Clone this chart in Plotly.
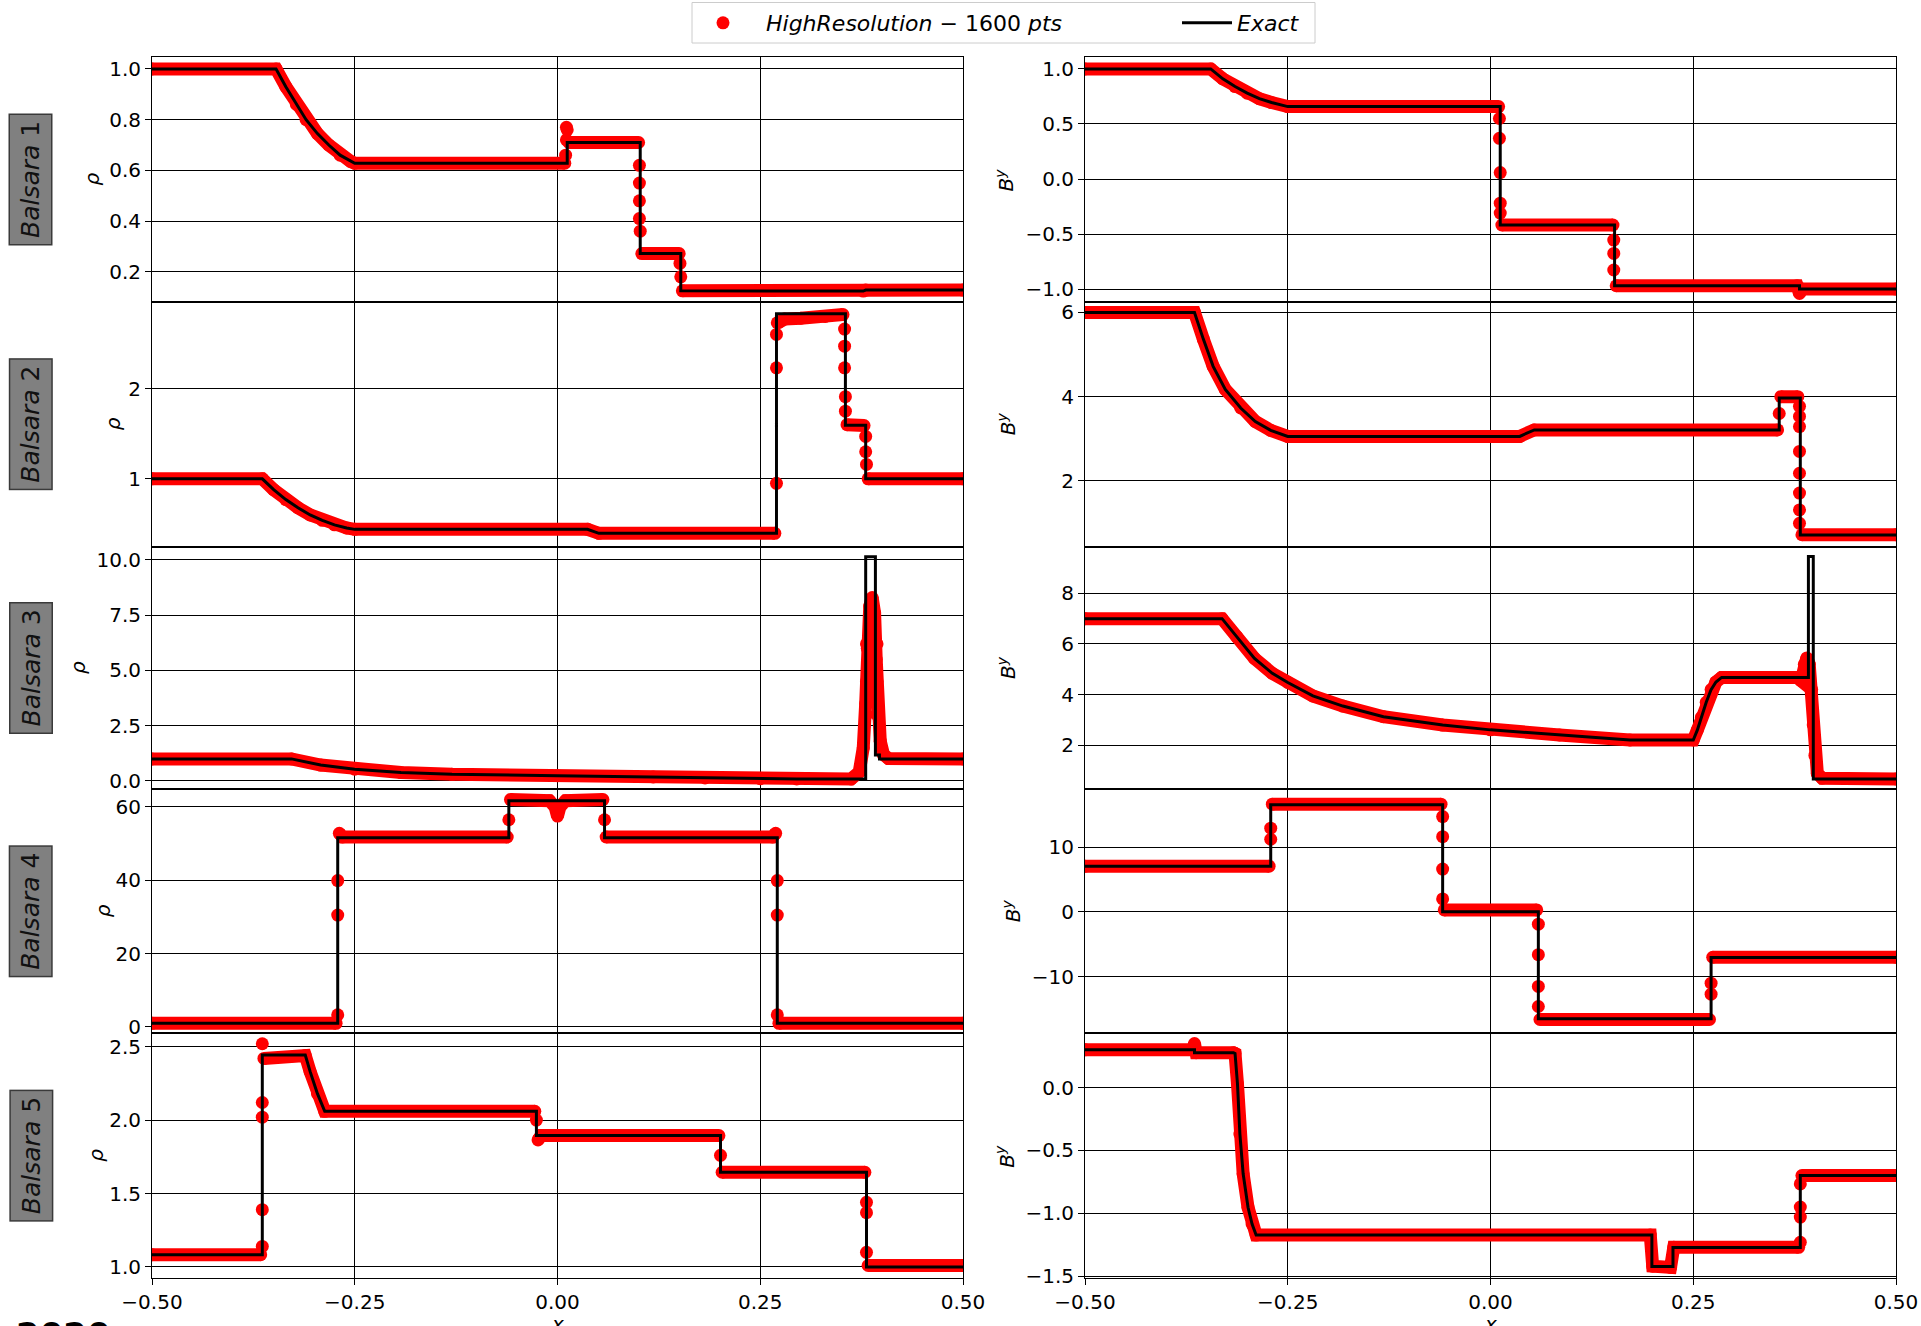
import plotly.graph_objects as go

# ---------------- tick labels ----------------
X_TICKS = [-0.5, -0.25, 0.0, 0.25, 0.5]
X_TICK_TEXT = ["\u22120.50", "\u22120.25", "0.00", "0.25", "0.50"]

ROW_NAMES = ["1", "2", "3", "4", "5"]

L1_tickvals = [0.2, 0.4, 0.6, 0.8, 1.0]
L1_ticktext = ["0.2", "0.4", "0.6", "0.8", "1.0"]
R1_tickvals = [-1.0, -0.5, 0.0, 0.5, 1.0]
R1_ticktext = ["\u22121.0", "\u22120.5", "0.0", "0.5", "1.0"]
L2_tickvals = [1, 2]
L2_ticktext = ["1", "2"]
R2_tickvals = [2, 4, 6]
R2_ticktext = ["2", "4", "6"]
L3_tickvals = [0.0, 2.5, 5.0, 7.5, 10.0]
L3_ticktext = ["0.0", "2.5", "5.0", "7.5", "10.0"]
R3_tickvals = [2, 4, 6, 8]
R3_ticktext = ["2", "4", "6", "8"]
L4_tickvals = [0, 20, 40, 60]
L4_ticktext = ["0", "20", "40", "60"]
R4_tickvals = [-10, 0, 10]
R4_ticktext = ["\u221210", "0", "10"]
L5_tickvals = [1.0, 1.5, 2.0, 2.5]
L5_ticktext = ["1.0", "1.5", "2.0", "2.5"]
R5_tickvals = [-1.5, -1.0, -0.5, 0.0]
R5_ticktext = ["\u22121.5", "\u22121.0", "\u22120.5", "0.0"]

# ---------------- Balsara 1 ----------------
L1_exact_x = [-0.5, -0.347, -0.335, -0.322, -0.310, -0.296, -0.282, -0.268, -0.255, -0.25, 0.012, 0.012, 0.102, 0.102, 0.152, 0.152, 0.377, 0.380, 0.5]
L1_exact_y = [1.0, 1.0, 0.93, 0.86, 0.80, 0.745, 0.70, 0.66, 0.635, 0.628, 0.628, 0.71, 0.71, 0.272, 0.272, 0.125, 0.124, 0.128, 0.128]
L1_num_x = [-0.5, -0.347, -0.335, -0.322, -0.310, -0.296, -0.282, -0.268, -0.255, -0.25, 0.009, None, 0.014, 0.100, None, 0.104, 0.150, None, 0.154, 0.377, 0.380, 0.5]
L1_num_y = [1.0, 1.0, 0.93, 0.86, 0.80, 0.745, 0.70, 0.66, 0.635, 0.628, 0.628, None, 0.71, 0.71, None, 0.272, 0.272, None, 0.125, 0.124, 0.128, 0.128]
L1_dot_x = [0.010, 0.011, 0.011, 0.012, 0.101, 0.101, 0.101, 0.101, 0.102, 0.151, 0.152]
L1_dot_y = [0.66, 0.72, 0.77, 0.76, 0.62, 0.55, 0.48, 0.41, 0.36, 0.233, 0.18]

R1_exact_x = [-0.5, -0.345, -0.330, -0.315, -0.300, -0.285, -0.270, -0.25, 0.012, 0.012, 0.153, 0.153, 0.381, 0.381, 0.5]
R1_exact_y = [1.0, 1.0, 0.91, 0.84, 0.78, 0.73, 0.695, 0.658, 0.658, -0.418, -0.418, -0.97, -0.97, -1.0, -1.0]
R1_num_x = [-0.5, -0.345, -0.330, -0.315, -0.300, -0.285, -0.270, -0.25, 0.010, None, 0.014, 0.151, None, 0.155, 0.378, 0.381, 0.384, 0.5]
R1_num_y = [1.0, 1.0, 0.91, 0.84, 0.78, 0.73, 0.695, 0.658, 0.658, None, -0.418, -0.418, None, -0.97, -0.97, -1.04, -1.0, -1.0]
R1_dot_x = [0.011, 0.011, 0.012, 0.012, 0.012, 0.152, 0.152, 0.152]
R1_dot_y = [0.55, 0.37, 0.058, -0.22, -0.31, -0.555, -0.676, -0.827]

# ---------------- Balsara 2 ----------------
L2_exact_x = [-0.5, -0.364, -0.35, -0.335, -0.32, -0.305, -0.29, -0.275, -0.26, -0.25, 0.037, 0.051, 0.270, 0.270, 0.355, 0.355, 0.380, 0.380, 0.5]
L2_exact_y = [1.0, 1.0, 0.88, 0.77, 0.68, 0.60, 0.54, 0.49, 0.455, 0.44, 0.44, 0.396, 0.396, 2.83, 2.83, 1.593, 1.593, 1.0, 1.0]
L2_num_x = [-0.5, -0.364, -0.35, -0.335, -0.32, -0.305, -0.29, -0.275, -0.26, -0.25, 0.037, 0.051, 0.268, None, 0.272, 0.28, 0.30, 0.33, 0.352, None, 0.357, 0.378, None, 0.383, 0.5]
L2_num_y = [1.0, 1.0, 0.88, 0.77, 0.68, 0.60, 0.54, 0.49, 0.455, 0.44, 0.44, 0.396, 0.396, None, 2.73, 2.77, 2.78, 2.80, 2.82, None, 1.60, 1.59, None, 1.0, 1.0]
L2_dot_x = [0.270, 0.270, 0.270, 0.271, 0.354, 0.354, 0.354, 0.355, 0.355, 0.380, 0.380, 0.381]
L2_dot_y = [0.95, 2.23, 2.60, 2.73, 2.66, 2.47, 2.23, 1.91, 1.75, 1.47, 1.30, 1.16]

R2_exact_x = [-0.5, -0.365, -0.354, -0.342, -0.327, -0.308, -0.29, -0.271, -0.25, 0.036, 0.054, 0.356, 0.356, 0.382, 0.382, 0.5]
R2_exact_y = [6.0, 6.0, 5.36, 4.72, 4.17, 3.73, 3.41, 3.2, 3.056, 3.056, 3.21, 3.21, 3.97, 3.97, 0.714, 0.714]
R2_num_x = [-0.5, -0.365, -0.354, -0.342, -0.327, -0.308, -0.29, -0.271, -0.25, 0.036, 0.054, 0.354, None, 0.358, 0.379, None, 0.384, 0.5]
R2_num_y = [6.0, 6.0, 5.36, 4.72, 4.17, 3.73, 3.41, 3.2, 3.056, 3.056, 3.21, 3.21, None, 4.0, 4.0, None, 0.72, 0.72]
R2_dot_x = [0.356, 0.381, 0.381, 0.381, 0.381, 0.381, 0.381, 0.381, 0.381]
R2_dot_y = [3.6, 3.77, 3.53, 3.29, 2.70, 2.18, 1.71, 1.31, 0.99]

# ---------------- Balsara 3 ----------------
L3_exact_x = [-0.5, -0.328, -0.292, -0.25, -0.193, -0.13, 0.0, 0.118, 0.182, 0.25, 0.295, 0.380, 0.380, 0.392, 0.392, 0.397, 0.397, 0.5]
L3_exact_y = [1.0, 1.0, 0.72, 0.53, 0.38, 0.30, 0.24, 0.18, 0.136, 0.106, 0.09, 0.09, 10.15, 10.15, 1.18, 1.18, 1.0, 1.0]
L3_num_x = [-0.5, -0.328, -0.292, -0.25, -0.193, -0.13, 0.0, 0.118, 0.182, 0.25, 0.295, 0.362, 0.372, 0.377, 0.380, 0.382, 0.385, 0.388, 0.391, 0.393, 0.395, 0.398, 0.402, 0.408, 0.5]
L3_num_y = [1.0, 1.0, 0.72, 0.53, 0.38, 0.30, 0.24, 0.18, 0.136, 0.106, 0.09, 0.09, 0.4, 1.5, 3.5, 6.0, 7.9, 8.3, 7.6, 5.5, 3.3, 1.8, 1.2, 1.02, 1.0]
L3_dot_x = [0.381, 0.381, 0.381, 0.394, 0.394, 0.394]
L3_dot_y = [3.0, 4.5, 6.2, 3.0, 4.5, 6.2]

R3_exact_x = [-0.5, -0.331, -0.313, -0.291, -0.269, -0.25, -0.219, -0.182, -0.132, -0.059, 0.0, 0.085, 0.172, 0.25, 0.255, 0.260, 0.266, 0.272, 0.278, 0.285, 0.392, 0.392, 0.398, 0.398, 0.5]
R3_exact_y = [7.0, 7.0, 6.29, 5.43, 4.84, 4.48, 3.95, 3.55, 3.13, 2.80, 2.61, 2.41, 2.21, 2.21, 2.6, 3.1, 3.7, 4.2, 4.5, 4.68, 4.68, 9.45, 9.45, 0.67, 0.67]
R3_num_x = [-0.5, -0.331, -0.313, -0.291, -0.269, -0.25, -0.219, -0.182, -0.132, -0.059, 0.0, 0.085, 0.172, 0.25, 0.255, 0.260, 0.266, 0.272, 0.278, 0.285, 0.378, 0.383, 0.387, 0.390, 0.393, 0.396, 0.398, 0.400, 0.403, 0.409, 0.5]
R3_num_y = [7.0, 7.0, 6.29, 5.43, 4.84, 4.48, 3.95, 3.55, 3.13, 2.80, 2.61, 2.41, 2.21, 2.21, 2.6, 3.1, 3.7, 4.2, 4.5, 4.68, 4.68, 4.55, 5.2, 5.45, 5.2, 4.2, 2.8, 1.6, 0.9, 0.7, 0.67]
R3_dot_x = []
R3_dot_y = []

# ---------------- Balsara 4 ----------------
L4_exact_x = [-0.5, -0.271, -0.271, -0.060, -0.060, 0.058, 0.058, 0.271, 0.271, 0.5]
L4_exact_y = [1.0, 1.0, 51.6, 51.6, 61.7, 61.7, 51.6, 51.6, 1.0, 1.0]
L4_num_x = [-0.5, -0.273, None, -0.269, -0.265, -0.062, None, -0.058, -0.010, -0.003, 0.0, 0.003, 0.010, 0.056, None, 0.060, 0.265, 0.269, None, 0.273, 0.5]
L4_num_y = [1.0, 1.0, None, 52.8, 51.8, 51.8, None, 62.0, 61.7, 60.0, 57.5, 60.0, 61.7, 62.0, None, 51.8, 51.8, 52.8, None, 1.0, 1.0]
L4_dot_x = [-0.271, -0.271, -0.271, -0.060, 0.058, 0.271, 0.271, 0.271]
L4_dot_y = [3.3, 30.5, 39.9, 56.5, 56.5, 39.9, 30.5, 3.3]

R4_exact_x = [-0.5, -0.271, -0.271, -0.059, -0.059, 0.059, 0.059, 0.272, 0.272, 0.5]
R4_exact_y = [7.04, 7.04, 16.5, 16.5, 0.0, 0.0, -16.5, -16.5, -7.04, -7.04]
R4_num_x = [-0.5, -0.273, None, -0.269, -0.061, None, -0.057, 0.057, None, 0.061, 0.270, None, 0.274, 0.5]
R4_num_y = [7.04, 7.04, None, 16.6, 16.6, None, 0.3, 0.3, None, -16.6, -16.6, None, -7.0, -7.0]
R4_dot_x = [-0.271, -0.271, -0.059, -0.059, -0.059, -0.059, 0.059, 0.059, 0.059, 0.059, 0.272, 0.272]
R4_dot_y = [11.2, 12.9, 14.7, 11.6, 6.6, 2.0, -1.9, -6.6, -11.5, -14.6, -11.0, -12.7]

# ---------------- Balsara 5 ----------------
L5_exact_x = [-0.5, -0.364, -0.364, -0.311, -0.305, -0.296, -0.287, -0.026, -0.026, 0.201, 0.201, 0.381, 0.381, 0.5]
L5_exact_y = [1.084, 1.084, 2.443, 2.443, 2.33, 2.18, 2.06, 2.06, 1.895, 1.895, 1.645, 1.645, 1.0, 1.0]
L5_num_x = [-0.5, -0.366, None, -0.362, -0.311, -0.305, -0.296, -0.287, -0.028, None, -0.024, -0.020, 0.199, None, 0.203, 0.379, None, 0.383, 0.5]
L5_num_y = [1.084, 1.084, None, 2.42, 2.44, 2.33, 2.18, 2.06, 2.06, None, 1.865, 1.895, 1.895, None, 1.645, 1.645, None, 1.01, 1.01]
L5_dot_x = [-0.364, -0.364, -0.364, -0.364, -0.364, -0.026, 0.201, 0.381, 0.381, 0.381]
L5_dot_y = [1.14, 1.39, 2.02, 2.12, 2.52, 2.0, 1.76, 1.44, 1.37, 1.10]

R5_exact_x = [-0.5, -0.365, -0.365, -0.317, -0.315, -0.312, -0.309, -0.305, -0.299, -0.294, -0.289, 0.199, 0.199, 0.225, 0.225, 0.382, 0.382, 0.5]
R5_exact_y = [0.30, 0.30, 0.277, 0.277, 0.271, 0.03, -0.37, -0.686, -0.952, -1.085, -1.173, -1.173, -1.423, -1.423, -1.271, -1.271, -0.70, -0.70]
R5_num_x = [-0.5, -0.367, -0.365, -0.363, -0.317, -0.315, -0.312, -0.309, -0.305, -0.299, -0.294, -0.289, 0.197, 0.200, 0.222, 0.226, 0.380, None, 0.384, 0.5]
R5_num_y = [0.30, 0.30, 0.35, 0.277, 0.277, 0.271, 0.03, -0.37, -0.686, -0.952, -1.085, -1.173, -1.173, -1.42, -1.43, -1.27, -1.27, None, -0.70, -0.70]
R5_dot_x = [0.382, 0.382, 0.382, 0.382]
R5_dot_y = [-1.23, -1.03, -0.95, -0.766]

# ---------------- layout geometry ----------------
W, H = 1921, 1326
COL_PX = [(152, 963), (1085, 1896)]
ROW_PX = [57.3, 301.7, 546.7, 789.3, 1033.3, 1278.0]
FONT = "DejaVu Sans"

RHO = "<i>\u03c1</i>"
BY = "<i>B</i><sup><i>y</i></sup>"

panels = [
    (L1_exact_x, L1_exact_y, L1_num_x, L1_num_y, L1_dot_x, L1_dot_y, L1_tickvals, L1_ticktext, [0.082, 1.046], RHO, 92),
    (R1_exact_x, R1_exact_y, R1_num_x, R1_num_y, R1_dot_x, R1_dot_y, R1_tickvals, R1_ticktext, [-1.115, 1.106], BY, 1005),
    (L2_exact_x, L2_exact_y, L2_num_x, L2_num_y, L2_dot_x, L2_dot_y, L2_tickvals, L2_ticktext, [0.248, 2.963], RHO, 113),
    (R2_exact_x, R2_exact_y, R2_num_x, R2_num_y, R2_dot_x, R2_dot_y, R2_tickvals, R2_ticktext, [0.436, 6.255], BY, 1007),
    (L3_exact_x, L3_exact_y, L3_num_x, L3_num_y, L3_dot_x, L3_dot_y, L3_tickvals, L3_ticktext, [-0.376, 10.60], RHO, 78),
    (R3_exact_x, R3_exact_y, R3_num_x, R3_num_y, R3_dot_x, R3_dot_y, R3_tickvals, R3_ticktext, [0.264, 9.84], BY, 1007),
    (L4_exact_x, L4_exact_y, L4_num_x, L4_num_y, L4_dot_x, L4_dot_y, L4_tickvals, L4_ticktext, [-1.73, 64.8], RHO, 103),
    (R4_exact_x, R4_exact_y, R4_num_x, R4_num_y, R4_dot_x, R4_dot_y, R4_tickvals, R4_ticktext, [-18.73, 18.9], BY, 1012),
    (L5_exact_x, L5_exact_y, L5_num_x, L5_num_y, L5_dot_x, L5_dot_y, L5_tickvals, L5_ticktext, [0.925, 2.591], RHO, 96),
    (R5_exact_x, R5_exact_y, R5_num_x, R5_num_y, R5_dot_x, R5_dot_y, R5_tickvals, R5_ticktext, [-1.514, 0.431], BY, 1005),
]

fig = go.Figure()
LEG_FONT = dict(family=FONT, size=22, color="black")
layout = dict(
    width=W, height=H,
    margin=dict(l=0, r=0, t=0, b=0, autoexpand=False),
    paper_bgcolor="white", plot_bgcolor="white",
    font=dict(family=FONT, size=20, color="black"),
    showlegend=True,
    legend=dict(
        orientation="h", x=680 / W, xanchor="left", y=1 - 23 / H, yanchor="middle",
        bgcolor="rgba(0,0,0,0)", borderwidth=0, font=LEG_FONT, itemwidth=76,
    ),
    legend2=dict(
        orientation="h", x=1177 / W, xanchor="left", y=1 - 23 / H, yanchor="middle",
        bgcolor="rgba(0,0,0,0)", borderwidth=0, font=LEG_FONT, itemwidth=50,
    ),
    shapes=[dict(
        type="rect", xref="paper", yref="paper",
        x0=692 / W, x1=1315 / W, y0=1 - 43 / H, y1=1 - 2.5 / H,
        line=dict(color="#cccccc", width=1), fillcolor="white", layer="below")],
)
annotations = []

for i, (ex, ey, nx, ny, dx, dy, tv, tt, rng, ytitle, title_px) in enumerate(panels):
    n = i + 1
    r, c = divmod(i, 2)
    sfx = "" if n == 1 else str(n)
    x0, x1 = COL_PX[c]
    ytop, ybot = ROW_PX[r], ROW_PX[r + 1]
    bottom = (r == 4)

    fig.add_trace(go.Scatter(
        x=nx, y=ny, mode="lines+markers", xaxis="x" + sfx, yaxis="y" + sfx,
        line=dict(color="#ff0000", width=13), marker=dict(color="#ff0000", size=13),
        connectgaps=False, showlegend=False, hoverinfo="skip"))
    fig.add_trace(go.Scatter(
        x=dx, y=dy, mode="markers", xaxis="x" + sfx, yaxis="y" + sfx,
        marker=dict(color="#ff0000", size=13),
        name="<i>HighResolution</i> \u2212 1600 <i>pts</i>",
        legend="legend", showlegend=(n == 1), hoverinfo="skip"))
    fig.add_trace(go.Scatter(
        x=ex, y=ey, mode="lines", xaxis="x" + sfx, yaxis="y" + sfx,
        line=dict(color="black", width=3),
        name="<i>Exact</i>", legend="legend2", showlegend=(n == 1), hoverinfo="skip"))

    layout["xaxis" + sfx] = dict(
        domain=[x0 / W, x1 / W], range=[-0.5, 0.5], anchor="y" + sfx, automargin=False,
        tickvals=X_TICKS, ticktext=X_TICK_TEXT, showticklabels=bottom,
        ticks="outside" if bottom else "", ticklen=6, tickwidth=1.2, tickcolor="black",
        showgrid=True, gridcolor="black", gridwidth=1, zeroline=False,
        showline=True, mirror=True, linecolor="black", linewidth=1,
        tickfont=dict(family=FONT, size=20, color="black"),
    )
    layout["yaxis" + sfx] = dict(
        domain=[1 - ybot / H, 1 - ytop / H], range=rng, anchor="x" + sfx, automargin=False,
        tickvals=tv, ticktext=tt, ticks="outside", ticklen=6, tickwidth=1.2, tickcolor="black",
        showgrid=True, gridcolor="black", gridwidth=1, zeroline=False,
        showline=True, mirror=True, linecolor="black", linewidth=1,
        tickfont=dict(family=FONT, size=20, color="black"),
    )
    annotations.append(dict(
        text=ytitle, x=title_px / W, y=1 - (ytop + ybot) / 2 / H, xref="paper", yref="paper",
        xanchor="center", yanchor="middle", textangle=-90, showarrow=False,
        font=dict(family=FONT, size=20, color="black")))
    if c == 0:
        annotations.append(dict(
            text="<i>Balsara</i> " + ROW_NAMES[r], x=31 / W, y=1 - (ytop + ybot) / 2 / H,
            xref="paper", yref="paper", xanchor="center", yanchor="middle",
            textangle=-90, showarrow=False,
            font=dict(family=FONT, size=25, color="#111111"),
            bgcolor="#808080", bordercolor="#3a3a3a", borderwidth=1.5, borderpad=6))
    if bottom:
        annotations.append(dict(
            text="<i>x</i>", x=(x0 + x1) / 2 / W, y=1 - 1310 / H, xref="paper", yref="paper",
            xanchor="center", yanchor="top", showarrow=False,
            font=dict(family=FONT, size=20, color="black")))

annotations.append(dict(
    text="<b>2020</b>", x=63 / W, y=1 - 1313 / H, xref="paper", yref="paper",
    xanchor="center", yanchor="top", showarrow=False,
    font=dict(family=FONT, size=34, color="black")))

layout["annotations"] = annotations
fig.update_layout(**layout)
fig.write_html("out.html")
